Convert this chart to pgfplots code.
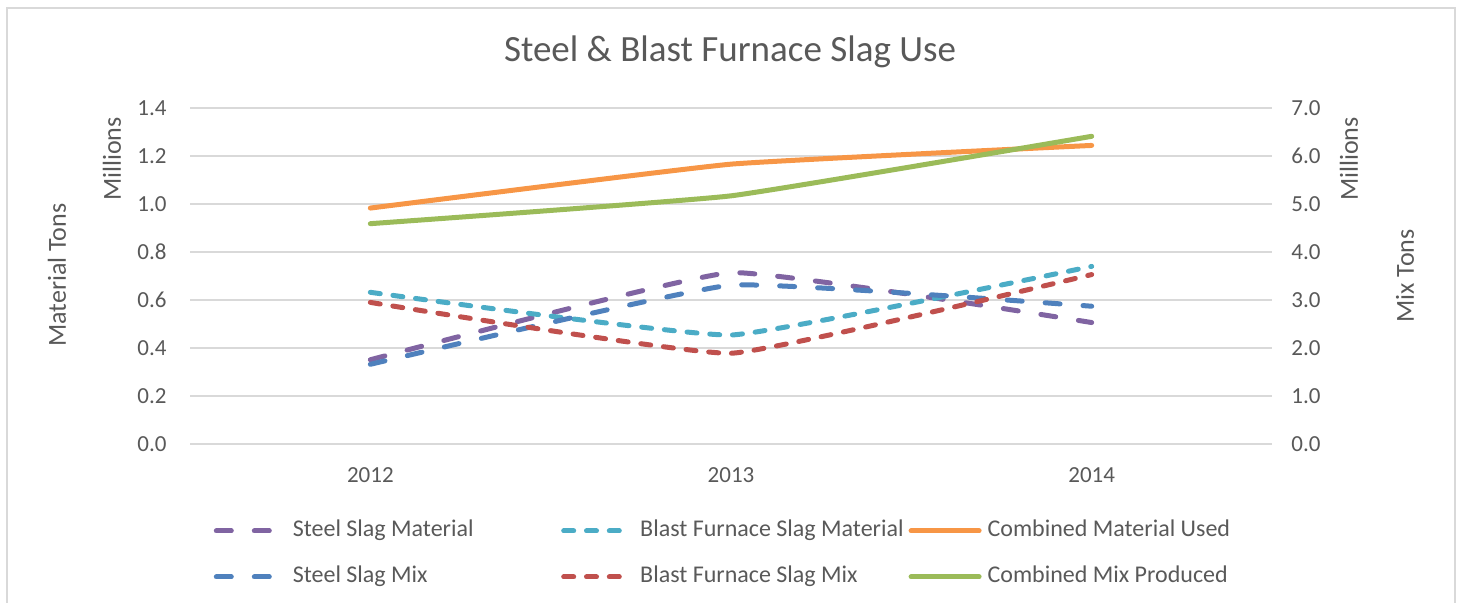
\documentclass[border=0pt]{standalone}
\usepackage{fontspec}
\setmainfont{Carlito}
\usepackage{pgfplots}
\pgfplotsset{compat=1.18}

\definecolor{txt}{HTML}{595959}
\definecolor{gridc}{HTML}{D9D9D9}
\definecolor{cpurple}{HTML}{8064A2}
\definecolor{cblue}{HTML}{4F81BD}
\definecolor{ccyan}{HTML}{4BACC6}
\definecolor{cred}{HTML}{C0504D}
\definecolor{corange}{HTML}{F79646}
\definecolor{cgreen}{HTML}{9BBB59}

\pgfplotsset{
  base/.style={
    at={(95pt,79.5pt)}, anchor=south west, scale only axis,
    width=541pt, height=168pt,
    xmin=-0.5, xmax=2.5, ymin=0,
    axis line style={draw=none},
    major tick length=0pt,
    tick label style={font=\fontsize{11.5}{13}\selectfont, text=txt},
    yticklabel style={/pgf/number format/fixed, /pgf/number format/fixed zerofill,
      /pgf/number format/precision=1, /pgf/number format/assume math mode=true},
  },
  longdash/.style={line width=2.5pt, line cap=round, dash pattern=on 7.5pt off 11.5pt},
  shortdash/.style={line width=2.5pt, line cap=round, dash pattern=on 5pt off 6.4pt},
  solidl/.style={line width=2.5pt, line cap=round},
  curve/.style={smooth, tension=0.2},
}

\begin{document}
\begin{tikzpicture}
  \path[use as bounding box] (0,0) rectangle (730.5pt,301.5pt);
  \draw[gridc, line width=0.75pt] (3.5pt,-5pt) rectangle (727.5pt,297.5pt);

  % left axis: material tons (millions)
  \begin{axis}[
    base,
    ymax=1.4,
    ytick={0,0.2,0.4,0.6,0.8,1.0,1.2,1.4},
    ymajorgrids,
    grid style={draw=gridc, line width=0.9pt},
    xtick={0,1,2},
    xticklabels={2012,2013,2014},
    xticklabel style={anchor=center, yshift=-15.5pt},
    yticklabel style={anchor=east, inner sep=0pt, xshift=-11.5pt},
    legend columns=3,
    legend cell align=left,
    legend image code/.code={\draw[#1] (0pt,0pt) -- (34pt,0pt);},
    legend style={at={(0.022,-0.2247)}, anchor=north west, draw=none, fill=none,
      inner sep=0pt, outer sep=0pt, row sep=11.5pt,
      font=\fontsize{12}{14}\selectfont, text=txt,
      nodes={inner sep=0pt, text height=8.5pt, text depth=3pt},
      /tikz/every odd column/.append style={column sep=3pt}},
  ]
    \addplot[cpurple, longdash, curve]
      coordinates {(0,0.351) (1,0.714) (2,0.506)};
    \addlegendentry{\makebox[134.2pt][l]{Steel Slag Material}}
    \addplot[ccyan, shortdash, curve]
      coordinates {(0,0.632) (1,0.454) (2,0.740)};
    \addlegendentry{\makebox[134.2pt][l]{Blast Furnace Slag Material}}
    \addplot[corange, solidl, curve]
      coordinates {(0,0.983) (1,1.166) (2,1.244)};
    \addlegendentry{Combined Material Used}
    \addlegendimage{cblue, longdash}
    \addlegendentry{\makebox[134.2pt][l]{Steel Slag Mix}}
    \addlegendimage{cred, shortdash}
    \addlegendentry{\makebox[134.2pt][l]{Blast Furnace Slag Mix}}
    \addlegendimage{cgreen, solidl}
    \addlegendentry{Combined Mix Produced}
  \end{axis}

  % right axis: mix tons (millions)
  \begin{axis}[
    base,
    ymax=7,
    ytick={0,1,2,3,4,5,6,7},
    axis y line*=right,
    axis x line=none,
    xtick=\empty,
    yticklabel style={anchor=west, inner sep=0pt, xshift=9.5pt},
  ]
    \addplot[cblue, longdash, curve]
      coordinates {(0,1.66) (1,3.31) (2,2.87)};
    \addplot[cred, shortdash, curve]
      coordinates {(0,2.95) (1,1.89) (2,3.53)};
    \addplot[cgreen, solidl, curve]
      coordinates {(0,4.59) (1,5.17) (2,6.41)};
  \end{axis}

  \node[text=txt, font=\fontsize{18.5}{22}\selectfont] at (365pt,275.5pt)
    {Steel \& Blast Furnace Slag Use};
  \node[rotate=90, text=txt, font=\fontsize{13}{15}\selectfont] at (28.5pt,164pt)
    {Material Tons};
  \node[rotate=90, text=txt, font=\fontsize{13}{15}\selectfont] at (56pt,222pt)
    {Millions};
  \node[rotate=90, text=txt, font=\fontsize{13}{15}\selectfont] at (674.5pt,222pt)
    {Millions};
  \node[rotate=90, text=txt, font=\fontsize{13}{15}\selectfont] at (702.5pt,163.5pt)
    {Mix Tons};
\end{tikzpicture}
\end{document}
